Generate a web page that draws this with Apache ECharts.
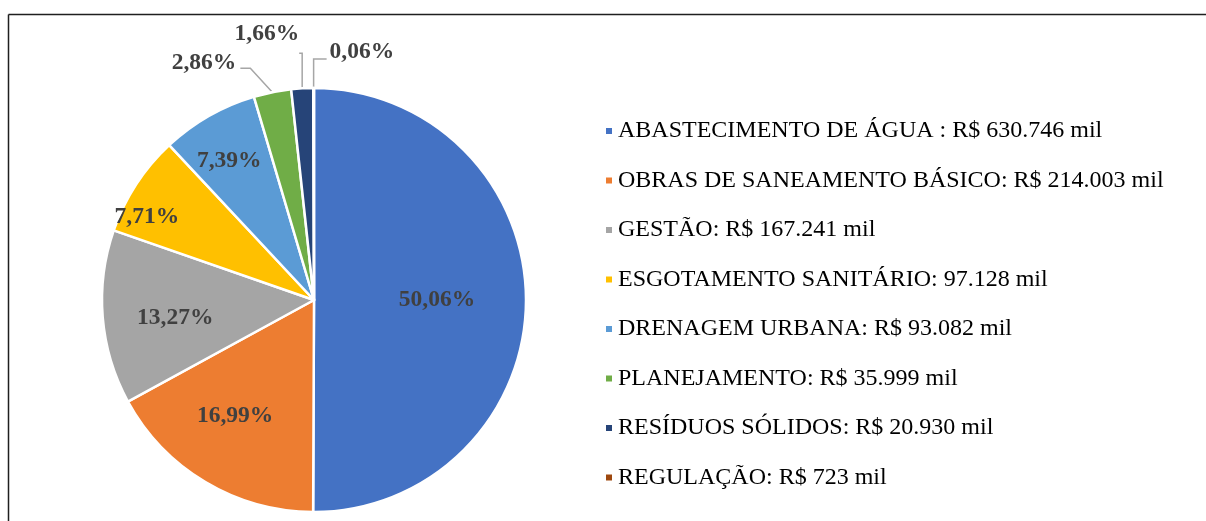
<!DOCTYPE html>
<html>

<head>
    <meta charset="utf-8">
    <title>index</title>
    <script src="https://cdn.jsdelivr.net/npm/echarts@6/dist/echarts.min.js"></script>
    <style>
        html, body { margin: 0; padding: 0; background: #fff; }
        #pie { width: 1206px; height: 521px; }
    </style>
</head>

<body>
    <div id="pie"></div>
</body>
<script>
    // valores em mil R$
    var categories = ['ABASTECIMENTO DE ÁGUA', 'OBRAS DE SANEAMENTO BÁSICO', 'GESTÃO', 'ESGOTAMENTO SANITÁRIO',
        'DRENAGEM URBANA', 'PLANEJAMENTO', 'RESÍDUOS SÓLIDOS', 'REGULAÇÃO'];
    var values = [630746, 214003, 167241, 97128, 93082, 35999, 20930, 723];
    var legendText = [
        'ABASTECIMENTO DE ÁGUA : R$ 630.746 mil',
        'OBRAS DE SANEAMENTO BÁSICO: R$ 214.003 mil',
        'GESTÃO: R$ 167.241 mil',
        'ESGOTAMENTO SANITÁRIO: 97.128 mil',
        'DRENAGEM URBANA: R$ 93.082 mil',
        'PLANEJAMENTO: R$ 35.999 mil',
        'RESÍDUOS SÓLIDOS: R$ 20.930 mil',
        'REGULAÇÃO: R$ 723 mil'
    ];
    var colors = ['#4472C4', '#ED7D31', '#A5A5A5', '#FFC000', '#5B9BD5', '#70AD47', '#264478', '#9E480E'];

    var total = values.reduce(function (a, b) { return a + b; }, 0);
    var serif = "'Liberation Serif', 'Times New Roman', serif";
    var center = [314, 300];
    var radius = 212;

    // rótulos internos: [distância do centro (fração do raio), desvio angular em graus], como no Excel
    var insideDist = { 0: [0.58, 0], 1: [0.66, 3.5], 2: [0.66, -2.7], 3: [0.88, -6.7], 4: [0.77, -1.5] };
    // linhas de chamada das fatias pequenas
    var leaders = {
        5: { rise: 24, run: -22, tail: -10, align: 'right', lx: -4, ly: -5 },
        6: { rise: 35, run: 0, tail: -3, align: 'right', lx: 0, ly: -19 },
        7: { rise: 29, run: 0, tail: 13, align: 'left', lx: 3, ly: -7 }
    };

    function pctText(p) {
        return p.percent.toFixed(2).replace('.', ',') + '%';
    }

    var data = values.map(function (v, i) {
        var small = v / total < 0.05;
        return {
            name: categories[i],
            value: v,
            label: { position: small ? 'outer' : 'inside' },
            labelLine: { show: small }
        };
    });

    var chart = echarts.init(document.getElementById('pie'));
    chart.setOption({
        animation: false,
        color: colors,
        graphic: [
            { type: 'line', shape: { x1: 8.5, y1: 14.5, x2: 1206, y2: 14.5 }, style: { stroke: '#1f1f1f', lineWidth: 1.5 } },
            { type: 'line', shape: { x1: 8.5, y1: 14.5, x2: 8.5, y2: 521 }, style: { stroke: '#1f1f1f', lineWidth: 1.5 } }
        ],
        legend: {
            orient: 'vertical',
            left: 604,
            top: 119,
            padding: 0,
            icon: 'rect',
            itemWidth: 8,
            itemHeight: 8,
            itemGap: 25.5,
            data: categories,
            formatter: function (name) {
                return legendText[categories.indexOf(name)];
            },
            textStyle: { fontFamily: serif, fontSize: 24, lineHeight: 24, color: '#000' }
        },
        series: [
            {
                type: 'pie',
                center: center,
                radius: radius,
                startAngle: 90,
                clockwise: true,
                avoidLabelOverlap: false,
                silent: true,
                itemStyle: { borderColor: '#fff', borderWidth: 2.5 },
                label: {
                    color: '#404040',
                    fontFamily: serif,
                    fontWeight: 'bold',
                    fontSize: 23.5,
                    formatter: pctText
                },
                labelLine: { length: 20, length2: 10, lineStyle: { color: '#A6A6A6', width: 1.5 } },
                labelLayout: function (p) {
                    var r = p.labelRect;
                    var k = insideDist[p.dataIndex];
                    if (k) {
                        var dx = r.x + r.width / 2 - center[0];
                        var dy = r.y + r.height / 2 - center[1];
                        var ang = Math.atan2(dx, -dy) + k[1] * Math.PI / 180;
                        return {
                            x: center[0] + Math.sin(ang) * k[0] * radius,
                            y: center[1] - Math.cos(ang) * k[0] * radius,
                            align: 'center',
                            verticalAlign: 'middle'
                        };
                    }
                    var s = leaders[p.dataIndex];
                    var pts = p.labelLinePoints;
                    if (!s || !pts) return {};
                    var a = pts[0];
                    var elbow = [a[0] + s.run, a[1] - s.rise];
                    var end = [elbow[0] + s.tail, elbow[1]];
                    return {
                        x: end[0] + s.lx,
                        y: end[1] + s.ly,
                        align: s.align,
                        verticalAlign: 'middle',
                        labelLinePoints: [a, elbow, end]
                    };
                },
                data: data
            }
        ]
    });
</script>

</html>
